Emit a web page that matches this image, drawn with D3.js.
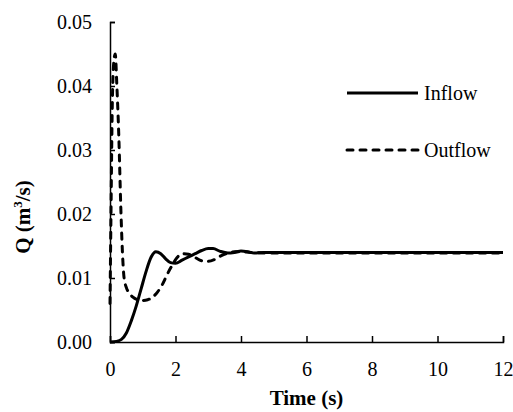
<!DOCTYPE html>
<html lang="en">
<head>
    <meta charset="utf-8">
    <title>Inflow and outflow</title>
    <style>
        body { margin: 0; background: #fff; }
        .axis path, .axis line { stroke: #000; stroke-width: 1.5px; }
    </style>
    <script src="https://d3js.org/d3.v7.min.js"></script>
</head>
<body>
<div id="chart"></div>
<script>
    // inflow series (time in s, Q in m3/s)
    const inflowTime = [0, 0.2, 0.35, 0.5, 0.65, 0.8, 0.95, 1.1, 1.25, 1.4, 1.55, 1.7, 1.85, 2.0, 2.2, 2.4, 2.6,
        2.8, 3.0, 3.15, 3.35, 3.6, 3.8, 4.0, 4.2, 4.4, 4.7, 5, 6, 8, 10, 12];
    const inflowQ = [0, 0.0001, 0.0004, 0.0014, 0.0033, 0.0056, 0.0083, 0.0110, 0.0132, 0.0141, 0.0138, 0.0130,
        0.0124, 0.0123, 0.0128, 0.0133, 0.0138, 0.0143, 0.0146, 0.0146, 0.0142, 0.0139, 0.0140, 0.0142, 0.0141,
        0.0139, 0.0140, 0.0140, 0.0140, 0.0140, 0.0140, 0.0140];

    // outflow series
    const outflowTime = [0, 0.03, 0.07, 0.12, 0.16, 0.21, 0.27, 0.33, 0.38, 0.43, 0.5, 0.58, 0.7, 0.85, 1.0,
        1.15, 1.3, 1.45, 1.6, 1.75, 1.9, 2.05, 2.2, 2.4, 2.6, 2.8, 3.0, 3.2, 3.4, 3.6, 3.8, 4.0, 4.3, 5, 6, 8, 10, 12];
    const outflowQ = [0.006, 0.020, 0.037, 0.044, 0.045, 0.040, 0.032, 0.021, 0.014, 0.0100, 0.0085, 0.0077,
        0.0070, 0.0066, 0.0065, 0.0066, 0.0070, 0.0078, 0.0090, 0.0106, 0.0120, 0.0132, 0.0138, 0.0137, 0.0132,
        0.0127, 0.0126, 0.0129, 0.0135, 0.0139, 0.0141, 0.0141, 0.0140, 0.0139, 0.0139, 0.0139, 0.0139, 0.0139];

    const xTicks = [0, 2, 4, 6, 8, 10, 12];
    const yTicks = [0, 0.01, 0.02, 0.03, 0.04, 0.05];
    const seriesNames = ["Inflow", "Outflow"];

    const serif = "Liberation Serif, DejaVu Serif, serif";

    const margin = {top: 22, right: 10, bottom: 70, left: 110},
        width = 513 - margin.left - margin.right,
        height = 412 - margin.top - margin.bottom;

    const svg = d3.select("#chart")
        .append("svg")
        .attr("width", 513)
        .attr("height", 412)
        .append("g")
        .attr("transform", `translate(${margin.left},${margin.top})`);

    const x = d3.scaleLinear().domain([0, 12]).range([0, width]);
    const y = d3.scaleLinear().domain([0, 0.05]).range([height, 0]);

    const inflow = inflowTime.map((t, i) => ({t: t, q: inflowQ[i]}));
    const outflow = outflowTime.map((t, i) => ({t: t, q: outflowQ[i]}));

    const line = d3.line()
        .x(d => x(d.t))
        .y(d => y(d.q))
        .curve(d3.curveMonotoneX);

    // axes, ticks pointing inward
    svg.append("g")
        .attr("class", "axis")
        .attr("transform", `translate(0,${height})`)
        .call(d3.axisBottom(x).tickValues(xTicks).tickSize(-6).tickPadding(20).tickFormat(d3.format("d")))
        .selectAll("text")
        .style("font-family", serif)
        .style("font-size", "20px")
        .attr("fill", "#000");

    svg.append("g")
        .attr("class", "axis")
        .call(d3.axisLeft(y).tickValues(yTicks).tickSize(-5).tickPadding(18).tickFormat(d3.format(".2f")))
        .selectAll("text")
        .style("font-family", serif)
        .style("font-size", "20px")
        .attr("fill", "#000");

    svg.append("path")
        .datum(outflow)
        .attr("fill", "none")
        .attr("stroke", "#000")
        .attr("stroke-width", 3)
        .attr("stroke-linecap", "round")
        .style("stroke-dasharray", "6,7")
        .attr("d", line);

    svg.append("path")
        .datum(inflow)
        .attr("fill", "none")
        .attr("stroke", "#000")
        .attr("stroke-width", 3)
        .attr("d", line);

    // axis titles
    svg.append("text")
        .attr("x", width / 2)
        .attr("y", height + 63)
        .attr("text-anchor", "middle")
        .style("font-family", serif)
        .style("font-size", "21px")
        .style("font-weight", "bold")
        .text("Time (s)");

    const ylab = svg.append("text")
        .attr("transform", `translate(${-110 + 30},${195}) rotate(-90)`)
        .attr("text-anchor", "middle")
        .style("font-family", serif)
        .style("font-size", "21px")
        .style("font-weight", "bold");
    ylab.append("tspan").text("Q (m");
    ylab.append("tspan").style("font-size", "13px").attr("dy", "-8").text("3");
    ylab.append("tspan").attr("dy", "8").text("/s)");

    // legend
    const legend = svg.append("g");
    seriesNames.forEach((name, i) => {
        const ly = 71 + i * 57;
        legend.append("line")
            .attr("x1", 237).attr("x2", 308)
            .attr("y1", ly).attr("y2", ly)
            .attr("stroke", "#000")
            .attr("stroke-width", 3)
            .attr("stroke-linecap", i === 1 ? "round" : "butt")
            .style("stroke-dasharray", i === 1 ? "6,7" : null);
        legend.append("text")
            .attr("x", 314)
            .attr("y", ly + 7)
            .style("font-family", serif)
            .style("font-size", "20px")
            .text(name);
    });
</script>
</body>
</html>
